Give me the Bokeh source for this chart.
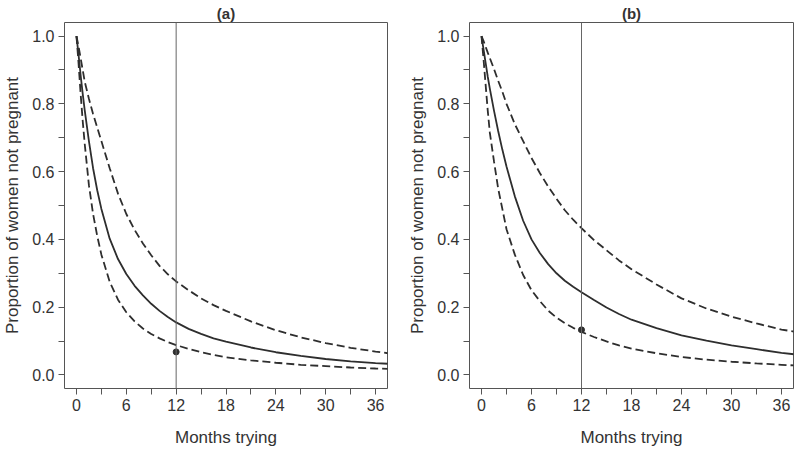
from bokeh.plotting import figure
from bokeh.layouts import row
from bokeh.models import Range1d, FixedTicker, Span, CustomJSTickFormatter
from bokeh.embed import file_html
from bokeh.resources import INLINE

# ---- data ----
months = [0, 0.25, 0.5, 0.75, 1, 1.5, 2, 2.5, 3, 4, 5, 6, 7, 8, 9, 10, 11, 12,
          13.5, 15, 16.5, 18, 21, 24, 27, 30, 33, 36, 37.5]

a_fit = [1.0, 0.945, 0.885, 0.83, 0.78, 0.69, 0.61, 0.545, 0.49, 0.402, 0.342, 0.298,
         0.263, 0.235, 0.21, 0.189, 0.171, 0.155,
         0.136, 0.121, 0.108, 0.098, 0.081, 0.067, 0.056, 0.047, 0.040, 0.035, 0.033]
a_upper = [1.0, 0.97, 0.935, 0.90, 0.865, 0.815, 0.77, 0.73, 0.69, 0.61, 0.535, 0.475,
           0.428, 0.388, 0.353, 0.322, 0.297, 0.276,
           0.250, 0.226, 0.206, 0.189, 0.158, 0.132, 0.111, 0.094, 0.080, 0.069, 0.064]
a_lower = [1.0, 0.92, 0.83, 0.75, 0.68, 0.56, 0.475, 0.41, 0.355, 0.275, 0.222, 0.185,
           0.158, 0.137, 0.121, 0.108, 0.097, 0.088,
           0.077, 0.067, 0.059, 0.052, 0.043, 0.036, 0.030, 0.026, 0.022, 0.019, 0.018]

b_fit = [1.0, 0.96, 0.92, 0.88, 0.845, 0.78, 0.72, 0.665, 0.615, 0.527, 0.455, 0.40,
         0.36, 0.327, 0.30, 0.278, 0.26, 0.244,
         0.221, 0.199, 0.18, 0.163, 0.138, 0.117, 0.101, 0.087, 0.076, 0.065, 0.061]
b_upper = [1.0, 0.985, 0.968, 0.951, 0.935, 0.903, 0.868, 0.836, 0.80, 0.74, 0.69, 0.64,
           0.596, 0.556, 0.52, 0.486, 0.458, 0.433,
           0.398, 0.368, 0.338, 0.312, 0.267, 0.226, 0.196, 0.172, 0.152, 0.134, 0.128]
b_lower = [1.0, 0.93, 0.855, 0.78, 0.715, 0.63, 0.55, 0.49, 0.43, 0.355, 0.295, 0.25,
           0.218, 0.19, 0.169, 0.153, 0.139, 0.127,
           0.112, 0.099, 0.087, 0.078, 0.064, 0.053, 0.045, 0.039, 0.034, 0.030, 0.028]

cutoff_month = 12
obs_a = 0.068
obs_b = 0.133

x_ticks = [0, 3, 6, 9, 12, 15, 18, 21, 24, 27, 30, 33, 36]
y_ticks = [0.0, 0.1, 0.2, 0.3, 0.4, 0.5, 0.6, 0.7, 0.8, 0.9, 1.0]

panel_titles = ["(a)", "(b)"]
x_label = "Months trying"
y_label = "Proportion of women not pregnant"

FONT = "Liberation Sans"
LINE = "#2e2e2e"
FRAME = "#555555"
VLINE = "#666666"
TEXT = "#333333"


def panel(title, fit, upper, lower, obs, left_border, right_border, frame_w):
    p = figure(width=left_border + frame_w + right_border, height=451,
               x_range=Range1d(-1.44, 37.44), y_range=Range1d(-0.04, 1.04),
               output_backend="svg", toolbar_location=None,
               min_border_left=left_border, min_border_right=right_border,
               min_border_top=22, min_border_bottom=63)
    p.grid.visible = False
    p.outline_line_color = FRAME
    p.outline_line_width = 1
    p.background_fill_color = "white"

    p.title.text = title
    p.title.align = "center"
    p.title.text_font = FONT
    p.title.text_font_size = "15px"
    p.title.text_font_style = "bold"
    p.title.text_color = TEXT
    p.title.standoff = 2
    p.title.offset = 0

    p.line(months, upper, line_dash="8 4", line_width=1.8, color=LINE)
    p.line(months, lower, line_dash="8 4", line_width=1.8, color=LINE)
    p.line(months, fit, line_width=1.8, color=LINE)
    p.add_layout(Span(location=cutoff_month, dimension="height",
                      line_color=VLINE, line_width=1))
    p.scatter([cutoff_month], [obs], size=6, color=LINE)

    xa = p.xaxis[0]
    xa.ticker = FixedTicker(ticks=x_ticks)
    xa.formatter = CustomJSTickFormatter(code="return (Math.round(tick) % 6 == 0) ? String(Math.round(tick)) : '';")
    ya = p.yaxis[0]
    ya.ticker = FixedTicker(ticks=y_ticks)
    ya.formatter = CustomJSTickFormatter(code="return (Math.round(tick*10) % 2 == 0) ? tick.toFixed(1) : '';")
    for ax in (xa, ya):
        ax.axis_line_color = None
        ax.major_tick_line_color = FRAME
        ax.major_tick_out = 6
        ax.major_tick_in = 0
        ax.minor_tick_line_color = None
        ax.major_label_text_font = FONT
        ax.major_label_text_font_size = "16px"
        ax.major_label_text_color = TEXT
        ax.axis_label_text_font = FONT
        ax.axis_label_text_font_size = "17px"
        ax.axis_label_text_font_style = "normal"
        ax.axis_label_text_color = TEXT
    xa.major_label_standoff = 4
    xa.axis_label = x_label
    xa.axis_label_standoff = 14
    ya.major_label_standoff = 4
    ya.axis_label = y_label
    ya.axis_label_standoff = 7
    return p


pa = panel(panel_titles[0], a_fit, a_upper, a_lower, obs_a, 63, 13, 324)
pb = panel(panel_titles[1], b_fit, b_upper, b_lower, obs_b, 69, 6, 324)

layout = row(pa, pb)
open("out.html", "w").write(file_html(layout, INLINE))
